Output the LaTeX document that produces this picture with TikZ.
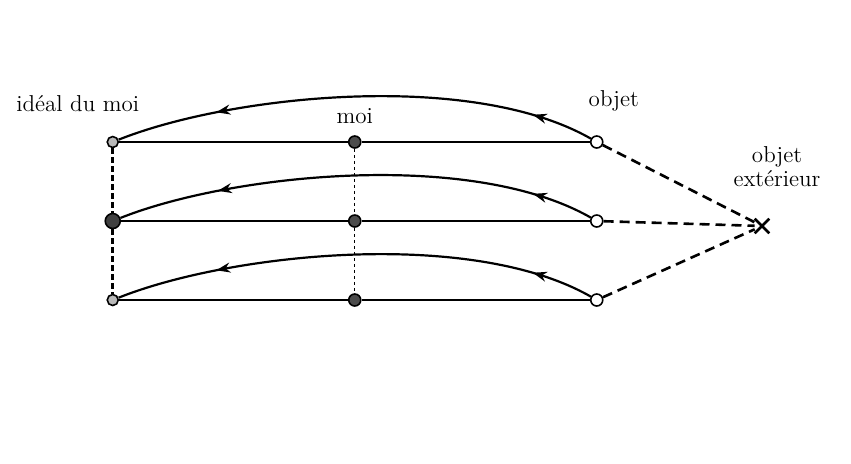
\documentclass[tikz,border=0pt]{standalone}
\usetikzlibrary{matrix,positioning,arrows.meta,decorations.markings,shapes.misc}

\tikzset{
	pnt/.style={circle, draw, inner sep=0pt, minimum size=6pt, line width=0.8pt},
	idealpt/.style={pnt, fill=gray!55, minimum size=5.5pt},
	idealbig/.style={pnt, fill=black!75, minimum size=7.5pt},
	moipt/.style={pnt, fill=black!70},
	objpt/.style={pnt, fill=white},
	lbl/.style={inner sep=0pt, font=\fontsize{11.5}{12}\selectfont},
	tie/.style={line width=1.2pt},
	extdash/.style={line width=1.3pt, dash pattern=on 5pt off 3pt},
	idealdash/.style={line width=1.5pt, dash pattern=on 3pt off 1.5pt},
	moidot/.style={line width=0.6pt, dash pattern=on 1.5pt off 1.5pt},
	flow/.style={line width=1.1pt, postaction={decorate},
		decoration={markings,
			mark=at position 0.13 with {\arrow{Stealth[length=7pt,width=5pt]}},
			mark=at position 0.79 with {\arrow{Stealth[length=7pt,width=5pt]}}}},
}

\begin{document}
\begin{tikzpicture}[x=0.5pt, y=-0.5pt]
	\useasboundingbox (0,0) rectangle (851,463);
	\matrix (m) [matrix of nodes, nodes in empty cells,
		row sep={39.5pt,between origins}, column sep={121pt,between origins},
		column 1/.style={nodes=idealpt}, column 2/.style={nodes=moipt},
		column 3/.style={nodes=objpt}, row 2 column 1/.style={nodes=idealbig}] at (354,221)
	{ & & \\
	  & & \\
	  & & \\ };
	\node (x) [cross out, draw, inner sep=0pt, minimum size=6pt, line width=1.3pt] at (762,226) {};

	% labels
	\node (ideal) [lbl, above=12pt of m-1-1, xshift=-17.5pt] {idéal du moi};
	\node (moi) [lbl, above=5.5pt of m-1-2] {moi};
	\node (objet) [lbl, above=12pt of m-1-3, xshift=8.5pt] {objet};
	\node (ext) [lbl, align=center, above=16pt of x, xshift=7.5pt] {objet\\extérieur};

	\foreach \r in {1,2,3} {
		\draw[tie] (m-\r-1) -- (m-\r-2);
		\draw[tie] (m-\r-2) -- (m-\r-3);
		\draw[flow] (m-\r-3) .. controls +(-126,-72) and +(118,-47) .. (m-\r-1);
		\draw[extdash] (m-\r-3) -- (x);
	}
	\draw[idealdash] (m-1-1) -- (m-2-1);
	\draw[idealdash] (m-2-1) -- (m-3-1);
	\draw[moidot] (m-1-2) -- (m-2-2);
	\draw[moidot] (m-2-2) -- (m-3-2);
\end{tikzpicture}
\end{document}
